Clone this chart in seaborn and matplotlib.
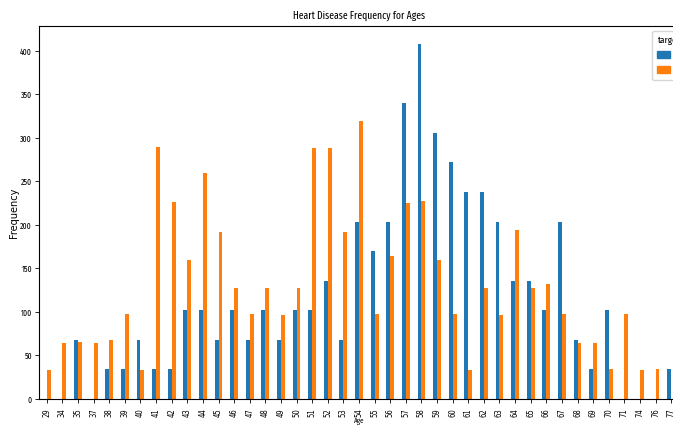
import matplotlib
matplotlib.use("Agg")
import matplotlib.pyplot as plt
import seaborn as sns
import pandas as pd

ages = [29, 34, 35, 37, 38, 39, 40, 41, 42, 43, 44, 45, 46, 47, 48, 49, 50,
        51, 52, 53, 54, 55, 56, 57, 58, 59, 60, 61, 62, 63, 64, 65, 66, 67,
        68, 69, 70, 71, 74, 76, 77]
target0 = [0, 0, 68, 0, 35, 35, 68, 35, 35, 102, 102, 68, 102, 68, 102, 68, 102,
           102, 136, 68, 204, 170, 204, 340, 408, 306, 272, 238, 238, 204, 136, 136, 102, 204,
           68, 35, 102, 0, 0, 0, 35]
target1 = [33, 64, 66, 64, 68, 98, 33, 290, 226, 160, 260, 192, 128, 98, 128, 96, 128,
           289, 289, 192, 320, 98, 164, 225, 228, 160, 98, 33, 128, 96, 194, 128, 132, 98,
           64, 64, 35, 98, 33, 35, 0]
targets = ["0", "1"]
yticks = [0, 50, 100, 150, 200, 250, 300, 350, 400]

NARROW = ["Fira Sans Extra Condensed", "DejaVu Sans"]

df = pd.DataFrame({
    "Age": [str(a) for a in ages] * 2,
    "Frequency": target0 + target1,
    "target": [targets[0]] * len(ages) + [targets[1]] * len(ages),
})

W, H = 673, 434
fig = plt.figure(figsize=(W / 100, H / 100), dpi=100)
ax = fig.add_axes([39 / W, 35 / H, 640 / W, 373 / H])

sns.barplot(data=df, x="Age", y="Frequency", hue="target",
            order=[str(a) for a in ages], hue_order=targets,
            palette=["#1f77b4", "#ff7f0e"], saturation=1, width=0.5,
            ax=ax, legend=False)

ax.set_xlim(-0.5, len(ages) - 0.5)
ax.set_ylim(0, 428.7)
ax.set_yticks(yticks)
ax.set_yticklabels([str(v) for v in yticks], fontsize=6, family=NARROW)
ax.tick_params(axis="x", labelsize=5.5, rotation=90, length=3, width=0.6)
ax.tick_params(axis="y", length=3, width=0.6, pad=2)
for lab in ax.get_xticklabels():
    lab.set_family("DejaVu Sans")
    lab.set_fontstretch("condensed")

for sp in ax.spines.values():
    sp.set_linewidth(0.8)

ax.set_title("Heart Disease Frequency for Ages", fontsize=7.5, family=NARROW, pad=5)
ax.set_xlabel("Age", fontsize=5.5, family=NARROW, labelpad=1)
ax.set_ylabel("Frequency", fontsize=7, family="DejaVu Sans")
ax.yaxis.set_label_coords(-20 / 640, 0.5)

handles = [plt.Rectangle((0, 0), 1, 1, color=c) for c in ["#1f77b4", "#ff7f0e"]]
leg = ax.legend(handles, targets, title="target", loc="upper left",
                bbox_to_anchor=(652 / W, (H - 31) / H), bbox_transform=fig.transFigure,
                borderaxespad=0, prop={"family": NARROW, "size": 7},
                title_fontproperties={"family": NARROW, "size": 7},
                handlelength=1.3, handleheight=0.7, labelspacing=0.6, borderpad=0.5)

fig.savefig("out.png", dpi=100)
